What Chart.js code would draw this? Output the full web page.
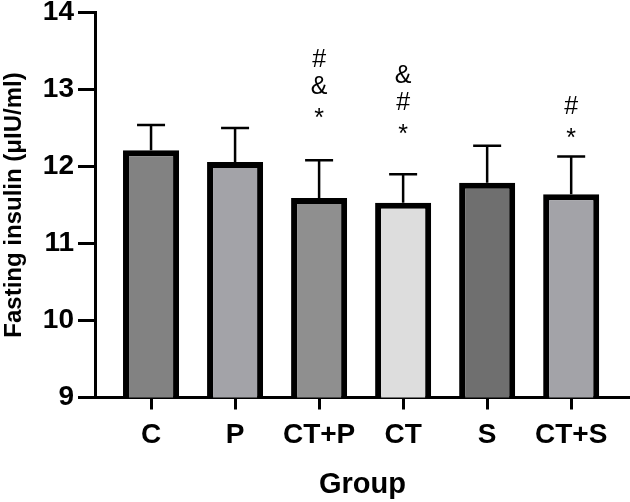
<!DOCTYPE html>
<html>
<head>
<meta charset="utf-8">
<script src="https://cdn.jsdelivr.net/npm/chart.js@4.4.1/dist/chart.umd.min.js"></script>
<style>
  html, body { margin: 0; padding: 0; background: #fff; }
  #wrap { width: 630px; height: 502px; }
</style>
</head>
<body>
<div id="wrap"><canvas id="grafico"></canvas></div>
<script>
// dados
const grupos = ['C', 'P', 'CT+P', 'CT', 'S', 'CT+S'];
const medias = [12.21, 12.06, 11.59, 11.53, 11.79, 11.64];
const limiteSuperior = [12.54, 12.50, 12.08, 11.90, 12.27, 12.13]; // topo da barra de erro
const coresBarras = ['#828282', '#a3a3a8', '#8f8f8f', '#dddddd', '#6f6f6f', '#a3a3a8'];
const marcas = [[], [], ['*', '&', '#'], ['*', '#', '&'], [], ['*', '#']]; // de baixo para cima
const nivelMarcas = [null, null, 12.71, 12.50, null, 12.45];
const ticksY = [9, 10, 11, 12, 13, 14];

const ctx = document.getElementById('grafico').getContext('2d');

// barras de erro (só a parte de cima) e os símbolos de significância
const extras = {
    id: 'extras',
    afterDatasetsDraw(chart) {
        const c = chart.ctx;
        const x = chart.scales.x, y = chart.scales.y;
        c.save();
        c.strokeStyle = '#000';
        c.lineWidth = 2.5;
        grupos.forEach((g, i) => {
            const px = x.getPixelForValue(i);
            const yTop = y.getPixelForValue(limiteSuperior[i]);
            const yBar = y.getPixelForValue(medias[i]);
            c.beginPath();
            c.moveTo(px, yBar);
            c.lineTo(px, yTop);
            c.moveTo(px - 14, yTop);
            c.lineTo(px + 14, yTop);
            c.stroke();
        });
        c.fillStyle = '#000';
        c.font = '25px "Liberation Sans", Arial, sans-serif';
        c.textAlign = 'center';
        c.textBaseline = 'alphabetic';
        marcas.forEach((lista, i) => {
            if (!lista.length) return;
            const px = x.getPixelForValue(i);
            const base = y.getPixelForValue(nivelMarcas[i]);
            lista.forEach((s, k) => {
                const centro = base - k * 27;
                const desloc = s === '*' ? 14 : 9;
                c.fillText(s, px, centro + desloc);
            });
        });
        c.restore();
    }
};

const config = {
    type: 'bar',
    data: {
        datasets: [{
            data: medias.map((v, i) => ({ x: i, y: v })),
            backgroundColor: coresBarras,
            borderColor: '#000',
            borderWidth: 6,
            borderSkipped: false,
            categoryPercentage: 1,
            barPercentage: 0.667
        }]
    },
    options: {
        responsive: true,
        maintainAspectRatio: false,
        animation: false,
        layout: { padding: { top: 12.5, right: 0, left: 0, bottom: 0 } },
        plugins: { legend: { display: false }, tooltip: { enabled: false } },
        scales: {
            x: {
                type: 'linear',
                offset: false,
                min: -0.667,
                max: 5.70,
                afterBuildTicks(scale) {
                    scale.ticks = grupos.map((g, i) => ({ value: i }));
                },
                afterFit(scale) {
                    scale.height = 104.5;
                    scale.paddingLeft = 0;
                    scale.paddingRight = 0;
                },
                border: { color: '#000', width: 3 },
                grid: { offset: false, drawOnChartArea: false, tickLength: 12, tickWidth: 3, tickColor: '#000' },
                ticks: {
                    color: '#000',
                    padding: 9,
                    maxRotation: 0,
                    autoSkip: false,
                    font: { family: '"Liberation Sans", Arial', size: 28, weight: 'bold' },
                    callback: (v) => grupos[v]
                },
                title: {
                    display: true,
                    text: 'Group',
                    color: '#000',
                    padding: { top: 0, bottom: 0 },
                    font: { family: '"Liberation Sans", Arial', size: 29, weight: 'bold' }
                }
            },
            y: {
                min: 9,
                max: 14,
                afterBuildTicks(scale) {
                    scale.ticks = ticksY.map(v => ({ value: v }));
                },
                afterFit(scale) {
                    scale.width = 95;
                    scale.paddingTop = 0;
                    scale.paddingBottom = 0;
                },
                border: { color: '#000', width: 3 },
                grid: { drawOnChartArea: false, tickLength: 17, tickWidth: 3, tickColor: '#000' },
                ticks: {
                    color: '#000',
                    padding: 4,
                    font: { family: '"Liberation Sans", Arial', size: 28, weight: 'bold' }
                },
                title: {
                    display: true,
                    text: 'Fasting insulin (μIU/ml)',
                    color: '#000',
                    padding: { top: 0, bottom: 0 },
                    font: { family: '"Liberation Sans", Arial', size: 24, weight: 'bold' }
                }
            }
        }
    },
    plugins: [extras]
};

const grafico = new Chart(ctx, config);
</script>
</body>
</html>
